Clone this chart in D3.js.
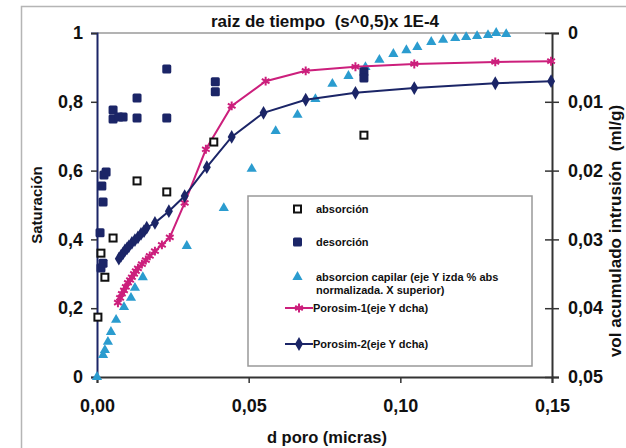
<!DOCTYPE html>
<html lang="es">
<head>
<meta charset="UTF-8">
<title>Saturación</title>
<script src="https://unpkg.com/d3@7.8.5/dist/d3.min.js"></script>
<style>
  body { margin: 0; background: #fff; }
  svg { display: block; font-family: Arial, "Liberation Sans", sans-serif; font-weight: bold; }
</style>
</head>
<body>
<svg width="626" height="448"></svg>
<script>
// datos
var absX = [0.0003, 0.0013, 0.0026, 0.0053, 0.0132, 0.023, 0.0385, 0.088]
var absY = [0.174, 0.36, 0.29, 0.404, 0.57, 0.538, 0.683, 0.703]

var desX = [0.001, 0.0013, 0.002, 0.002, 0.0016, 0.0023, 0.003, 0.0053, 0.0053, 0.0072, 0.0086, 0.0132, 0.0132, 0.023, 0.023, 0.039, 0.039, 0.088, 0.088]
var desY = [0.419, 0.317, 0.331, 0.509, 0.555, 0.587, 0.596, 0.776, 0.75, 0.756, 0.756, 0.811, 0.753, 0.895, 0.753, 0.858, 0.829, 0.887, 0.869]

// absorcion capilar (eje X superior, colocado sobre la escala inferior)
var capX = [0, 0.002, 0.0026, 0.0036, 0.0046, 0.0063, 0.0089, 0.0112, 0.0125, 0.0151, 0.0296, 0.0418, 0.0510, 0.0589, 0.0661, 0.0720, 0.0776, 0.0829, 0.0885, 0.0931, 0.0977, 0.1020, 0.1056, 0.1102, 0.1141, 0.1181, 0.1217, 0.1253, 0.1289, 0.1316, 0.1349]
var capY = [0, 0.064, 0.078, 0.102, 0.131, 0.166, 0.203, 0.23, 0.259, 0.29, 0.381, 0.491, 0.605, 0.715, 0.762, 0.808, 0.852, 0.875, 0.901, 0.922, 0.939, 0.95, 0.959, 0.974, 0.98, 0.985, 0.988, 0.991, 0.994, 1.0, 0.997]

var p1X = [0.0069, 0.0076, 0.0082, 0.0089, 0.0095, 0.0102, 0.0109, 0.0115, 0.0122, 0.0128, 0.0135, 0.0148, 0.0161, 0.0174, 0.0191, 0.0214, 0.024, 0.0289, 0.0359, 0.0444, 0.0556, 0.0688, 0.0852, 0.1046, 0.1313, 0.1497]
var p1Y = [0.0392, 0.0385, 0.0379, 0.0374, 0.0369, 0.0363, 0.0359, 0.0355, 0.035, 0.0346, 0.0342, 0.0336, 0.033, 0.0324, 0.0317, 0.0308, 0.0297, 0.0247, 0.0169, 0.0106, 0.007, 0.0055, 0.0049, 0.0045, 0.0042, 0.0041]

var p2X = [0.0072, 0.0079, 0.0086, 0.0092, 0.0099, 0.0105, 0.0115, 0.0125, 0.0135, 0.0145, 0.0155, 0.0164, 0.0191, 0.0237, 0.0289, 0.0362, 0.0444, 0.0549, 0.0688, 0.0852, 0.1046, 0.1313, 0.1497]
var p2Y = [0.0328, 0.0324, 0.032, 0.0316, 0.0313, 0.031, 0.0305, 0.0301, 0.0297, 0.0292, 0.0288, 0.0283, 0.0276, 0.0259, 0.0237, 0.0195, 0.0151, 0.0116, 0.0097, 0.0087, 0.008, 0.0073, 0.007]

var xTicks = [0, 0.05, 0.10, 0.15]
var yLeftTicks = [0, 0.2, 0.4, 0.6, 0.8, 1]
var yRightTicks = [0, 0.01, 0.02, 0.03, 0.04, 0.05]

var navy = '#1b2567', magenta = '#cc1f7c', sky = '#2b9ccf'

var svg = d3.select('svg')
var x = d3.scaleLinear().domain([0, 0.15]).range([97, 552])
var yL = d3.scaleLinear().domain([0, 1]).range([377, 33])
var yR = d3.scaleLinear().domain([0, 0.05]).range([33, 377])
var coma = function (f) { return function (d) { return d3.format(f)(d).replace('.', ',') } }

// marco exterior
svg.append('rect').attr('x', 21.5).attr('y', 6.5).attr('width', 640).attr('height', 470)
  .attr('fill', 'none').attr('stroke', '#b5b5b5').attr('stroke-width', 1.5)

// borde superior del area
svg.append('line').attr('x1', 97).attr('x2', 552).attr('y1', 33).attr('y2', 33)
  .attr('stroke', '#9a9a9a').attr('stroke-width', 1.5)

// ejes
var gx = svg.append('g').attr('transform', 'translate(0,377)')
  .call(d3.axisBottom(x).tickValues(xTicks).tickFormat(coma('.2f')).tickSizeOuter(0).tickSize(6).tickPadding(16))
var gl = svg.append('g').attr('transform', 'translate(97,0)')
  .call(d3.axisLeft(yL).tickValues(yLeftTicks).tickFormat(function (d) { return d === 0 || d === 1 ? d : coma('.1f')(d) }).tickSizeOuter(0).tickSize(6).tickPadding(8))
var gr = svg.append('g').attr('transform', 'translate(552,0)')
  .call(d3.axisRight(yR).tickValues(yRightTicks).tickFormat(function (d) { return d === 0 ? '0' : coma('.2f')(d) }).tickSizeOuter(0).tickSize(7).tickPadding(9))
gr.selectAll('.tick').append('line').attr('x1', -7).attr('x2', 0).attr('stroke', 'currentColor')

;[gx, gl, gr].forEach(function (g) {
  g.select('.domain').attr('stroke', '#333').attr('stroke-width', 2)
  g.selectAll('.tick line').attr('stroke', '#333').attr('stroke-width', 1.5)
  g.selectAll('text').attr('font-size', 18).attr('font-weight', 'bold').attr('fill', '#111')
})
gl.select('.domain').attr('stroke', navy)

// titulos
svg.append('text').attr('x', 325).attr('y', 27).attr('text-anchor', 'middle').attr('font-size', 17).attr('fill', '#111')
  .attr('xml:space', 'preserve').text('raiz de tiempo  (s^0,5)x 1E-4')
svg.append('text').attr('x', 327).attr('y', 443).attr('text-anchor', 'middle').attr('font-size', 16.5).attr('fill', '#111').text('d poro (micras)')
svg.append('text').attr('transform', 'translate(42,205) rotate(-90)').attr('text-anchor', 'middle').attr('font-size', 15).attr('fill', '#111').text('Saturación')
svg.append('text').attr('transform', 'translate(621,231) rotate(-90)').attr('text-anchor', 'middle').attr('font-size', 17).attr('fill', '#111')
  .attr('xml:space', 'preserve').text('vol acumulado intrusión  (ml/g)')

// series
var sym = function (type, size) { return d3.symbol().type(type).size(size)() }

svg.append('g').selectAll('path').data(d3.zip(capX, capY)).enter().append('path')
  .attr('transform', function (d) { return 'translate(' + x(d[0]) + ',' + yL(d[1]) + ')' })
  .attr('d', sym(d3.symbolTriangle, 45)).attr('fill', sky)

var line = d3.line().x(function (d) { return x(d[0]) }).y(function (d) { return yR(d[1]) })

svg.append('path').datum(d3.zip(p1X, p1Y)).attr('d', line).attr('fill', 'none').attr('stroke', magenta).attr('stroke-width', 2)
svg.append('g').selectAll('path').data(d3.zip(p1X, p1Y)).enter().append('path')
  .attr('transform', function (d) { return 'translate(' + x(d[0]) + ',' + yR(d[1]) + ')' })
  .attr('d', sym(d3.symbolAsterisk, 55)).attr('fill', 'none').attr('stroke', magenta).attr('stroke-width', 2)

svg.append('path').datum(d3.zip(p2X, p2Y)).attr('d', line).attr('fill', 'none').attr('stroke', navy).attr('stroke-width', 2)
svg.append('g').selectAll('path').data(d3.zip(p2X, p2Y)).enter().append('path')
  .attr('transform', function (d) { return 'translate(' + x(d[0]) + ',' + yR(d[1]) + ')' })
  .attr('d', sym(d3.symbolDiamond, 55)).attr('fill', navy)

svg.append('g').selectAll('rect').data(d3.zip(desX, desY)).enter().append('rect')
  .attr('x', function (d) { return x(d[0]) - 4.5 }).attr('y', function (d) { return yL(d[1]) - 4.5 })
  .attr('width', 9).attr('height', 9).attr('rx', 1.5).attr('fill', navy)

svg.append('g').selectAll('rect').data(d3.zip(absX, absY)).enter().append('rect')
  .attr('x', function (d) { return x(d[0]) - 3.5 }).attr('y', function (d) { return yL(d[1]) - 3.5 })
  .attr('width', 7).attr('height', 7).attr('fill', '#fff').attr('stroke', '#111').attr('stroke-width', 2)

// leyenda
var lg = svg.append('g')
lg.append('rect').attr('x', 248).attr('y', 196).attr('width', 284).attr('height', 170)
  .attr('fill', '#fff').attr('stroke', '#999').attr('stroke-width', 1.5)

var legText = [['absorción'], ['desorción'], ['absorcion capilar (eje Y izda % abs', 'normalizada. X superior)'], ['Porosim-1(eje Y dcha)'], ['Porosim-2(eje Y dcha)']]
var legY = [209, 242, 277, 308, 344]

lg.append('rect').attr('x', 294).attr('y', legY[0] - 3.5).attr('width', 7).attr('height', 7).attr('fill', '#fff').attr('stroke', '#111').attr('stroke-width', 2)
lg.append('rect').attr('x', 293).attr('y', legY[1] - 4.5).attr('width', 9).attr('height', 9).attr('rx', 1.5).attr('fill', navy)
lg.append('path').attr('transform', 'translate(297.5,' + legY[2] + ')').attr('d', sym(d3.symbolTriangle, 45)).attr('fill', sky)
lg.append('line').attr('x1', 285).attr('x2', 313).attr('y1', legY[3]).attr('y2', legY[3]).attr('stroke', magenta).attr('stroke-width', 2)
lg.append('path').attr('transform', 'translate(299,' + legY[3] + ')').attr('d', sym(d3.symbolAsterisk, 55)).attr('fill', 'none').attr('stroke', magenta).attr('stroke-width', 2)
lg.append('line').attr('x1', 285).attr('x2', 313).attr('y1', legY[4]).attr('y2', legY[4]).attr('stroke', navy).attr('stroke-width', 2)
lg.append('path').attr('transform', 'translate(299,' + legY[4] + ')').attr('d', sym(d3.symbolDiamond, 55)).attr('fill', navy)

legText.forEach(function (t, i) {
  var txt = lg.append('text').attr('x', i > 2 ? 313 : 316).attr('y', legY[i] + 4).attr('font-size', 11).attr('fill', '#111')
  t.forEach(function (s, j) {
    txt.append('tspan').attr('x', i > 2 ? 313 : 316).attr('dy', j ? 13 : 0).text(s)
  })
})
</script>
</body>
</html>
